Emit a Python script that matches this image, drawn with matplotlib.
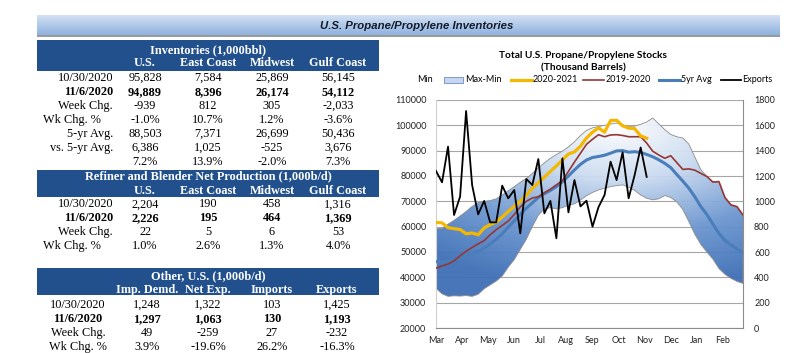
import numpy as np
import matplotlib.pyplot as plt
from matplotlib.patches import Rectangle
from matplotlib.lines import Line2D
from matplotlib.colors import LinearSegmentedColormap

W, H = 810, 353

# ---- chart data (weekly, Mar -> Feb) ----
months = ['Mar', 'Apr', 'May', 'Jun', 'Jul', 'Aug', 'Sep', 'Oct', 'Nov', 'Dec', 'Jan', 'Feb']

stocks_2020 = [61700, 61500, 59600, 59200, 58900, 57200, 57500, 56800, 59500, 60800,
               61800, 63800, 66000, 68000, 70000, 72300, 75200, 77300, 79500, 81800,
               84000, 86300, 88700, 89500, 91800, 95000, 97300, 99000, 97300, 101900,
               102000, 99800, 98900, 98700, 95828, 94889]

stocks_2019 = [43600, 44500, 45300, 46500, 48500, 50300, 51800, 53200, 54500, 56800,
               58800, 60500, 62200, 64800, 67800, 70000, 71300, 71800, 73400, 74800,
               76500, 78200, 81800, 85500, 89000, 92500, 94500, 96300, 95500, 96200,
               96300, 96000, 95500, 95500, 95500, 93000, 89800, 88300, 87000, 88000,
               85300, 82600, 82800, 82300, 81000, 79800, 77600, 77800, 71500, 68600,
               67900, 64600]

avg_5yr = [46200, 46000, 46200, 46800, 47600, 48400, 49400, 50300, 51500, 53200,
           55000, 57200, 59800, 62300, 64800, 67300, 69400, 71500, 73000, 74300,
           75800, 77700, 80000, 82400, 84600, 86300, 87300, 87700, 88200, 89000,
           89900, 90000, 89400, 89600, 89300, 88503, 87600, 86400, 85000, 83300,
           80600, 78000, 75200, 71800, 67900, 64800, 61000, 57300, 54600, 52800,
           51200, 49600]

range_max = [59300, 59300, 61000, 62500, 64200, 66000, 68000, 69500, 70000, 70300,
             71000, 72500, 74200, 75800, 77500, 79000, 81000, 83200, 85200, 87000,
             88500, 89800, 91500, 93500, 96000, 98000, 99000, 99500, 100000, 100500,
             100900, 100200, 99600, 99700, 100400, 101300, 102900, 100600, 98300, 96400,
             95500, 95000, 92600, 87500, 82500, 79800, 77600, 77800, 71500, 68600,
             67900, 64600]

range_min = [35700, 33500, 32500, 32700, 32600, 32800, 32500, 33300, 35500, 37000,
             38500, 40500, 44000, 47000, 51000, 55000, 60000, 64500, 67000, 67500,
             67000, 67500, 68500, 69000, 70500, 72200, 73500, 74500, 75200, 75800,
             76200, 76500, 75600, 74300, 72500, 71200, 70600, 71000, 72300, 71500,
             69800, 66800, 62000, 57000, 53000, 50000, 47200, 43500, 41200, 39600,
             38400, 37600]

exports = [1240, 1150, 1432, 892, 1037, 1713, 1129, 897, 1003, 834,
           834, 1124, 1024, 1089, 747, 1176, 1129, 1334, 905, 1003,
           708, 1339, 913, 1168, 960, 1005, 800, 955, 1050, 1313,
           1168, 1387, 1024, 1208, 1425, 1193]

legend_labels = ['Min', 'Max-Min', '2020-2021', '2019-2020', '5yr Avg', 'Exports']

# ---- table data ----
inv_title = 'Inventories (1,000bbl)'
inv_cols = ['U.S.', 'East Coast', 'Midwest', 'Gulf Coast']
inv_labels = ['10/30/2020', '11/6/2020', 'Week Chg.', 'Wk Chg. %', '5-yr Avg.', 'vs. 5-yr Avg.', '']
inv_rows = [['95,828', '7,584', '25,869', '56,145'],
            ['94,889', '8,396', '26,174', '54,112'],
            ['-939', '812', '305', '-2,033'],
            ['-1.0%', '10.7%', '1.2%', '-3.6%'],
            ['88,503', '7,371', '26,699', '50,436'],
            ['6,386', '1,025', '-525', '3,676'],
            ['7.2%', '13.9%', '-2.0%', '7.3%']]

prod_title = 'Refiner and Blender Net Production (1,000b/d)'
prod_cols = ['U.S.', 'East Coast', 'Midwest', 'Gulf Coast']
prod_labels = ['10/30/2020', '11/6/2020', 'Week Chg.', 'Wk Chg. %']
prod_rows = [['2,204', '190', '458', '1,316'],
             ['2,226', '195', '464', '1,369'],
             ['22', '5', '6', '53'],
             ['1.0%', '2.6%', '1.3%', '4.0%']]

oth_title = 'Other, U.S. (1,000b/d)'
oth_cols = ['Imp. Demd.', 'Net Exp.', 'Imports', 'Exports']
oth_labels = ['10/30/2020', '11/6/2020', 'Week Chg.', 'Wk Chg. %']
oth_rows = [['1,248', '1,322', '103', '1,425'],
            ['1,297', '1,063', '130', '1,193'],
            ['49', '-259', '27', '-232'],
            ['3.9%', '-19.6%', '26.2%', '-16.3%']]

HDR = '#21508c'
SERIF = 'Liberation Serif'
SANS = ['Lato', 'DejaVu Sans']
TFS = 8.8


def fx(x):
    return x / W


def fy(y):
    return 1 - y / H


fig = plt.figure(figsize=(W / 100, H / 100), dpi=100)

# ---- top banner ----
bar = fig.add_axes([fx(37), fy(35), fx(743), 20 / H])
grad = np.linspace(0, 1, 50).reshape(-1, 1)
bar.imshow(grad, aspect='auto', cmap=LinearSegmentedColormap.from_list('b', ['#d3e1f3', '#8fb2df']),
           extent=[0, 1, 0, 1], origin='upper')
bar.set_axis_off()
fig.patches.append(Rectangle((fx(37), fy(37)), fx(743), 2 / H, transform=fig.transFigure,
                             facecolor='#9a9a9a', edgecolor='none'))
fig.text(fx(417), fy(26), 'U.S. Propane/Propylene Inventories', ha='center', va='center',
         fontsize=8.2, fontweight='bold', style='italic', color='#141c2c',
         family=['Liberation Sans', 'DejaVu Sans'])


def draw_table(title, cols, col_x, labels, rows, top, bot, title_y, cols_y, row_y0, lab_x, lab_ha):
    fig.patches.append(Rectangle((fx(37), fy(bot)), fx(342), (bot - top) / H,
                                 transform=fig.transFigure, facecolor=HDR, edgecolor='none'))
    fig.text(fx(208), fy(title_y), title, ha='center', va='center', color='white',
             fontsize=TFS, fontweight='bold', family=SERIF)
    for c, cx in zip(cols, col_x):
        fig.text(fx(cx), fy(cols_y), c, ha='center', va='center', color='white',
                 fontsize=TFS, fontweight='bold', family=SERIF)
    for i, (lab, row) in enumerate(zip(labels, rows)):
        y = row_y0 + 14 * i
        wt = 'bold' if i == 1 else 'normal'
        lx = lab_x
        if lab_ha == 'right' and lab == 'Wk Chg. %':
            lx = lab_x - 12
        fig.text(fx(lx), fy(y), lab, ha=lab_ha, va='center', fontsize=TFS,
                 fontweight=wt, family=SERIF, color='black')
        for v, cx in zip(row, col_x):
            fig.text(fx(cx), fy(y), v, ha='center', va='center', fontsize=TFS,
                     fontweight=wt, family=SERIF, color='black')


draw_table(inv_title, inv_cols, [145, 208, 272, 338], inv_labels, inv_rows,
           40, 71, 50, 63, 77.7, 113, 'right')
draw_table(prod_title, prod_cols, [145, 208, 272, 338], prod_labels, prod_rows,
           170, 197, 176.5, 190.7, 204.3, 113, 'right')
draw_table(oth_title, oth_cols, [147, 208, 272, 337], oth_labels, oth_rows,
           268, 295, 276, 290, 304.7, 78, 'center')

# ---- chart ----
weeks = np.arange(len(avg_5yr))
ax = fig.add_axes([fx(436), fy(328), fx(307), 228 / H])
ax.set_xlim(0, 51)
ax.set_ylim(20000, 110000)
ax.set_yticks(np.arange(20000, 110001, 10000))
ax.grid(axis='y', color='#a6a6a6', linewidth=0.8, zorder=0)
ax.set_axisbelow(True)

gx = np.linspace(0, 51, 300)
gy = np.linspace(20000, 110000, 300)
GX, GY = np.meshgrid(gx, gy)
t = np.clip(np.sqrt(((GX - 30) / 50) ** 2 + ((100000 - GY) / 65000) ** 2), 0, 1)
band_cmap = LinearSegmentedColormap.from_list('band', ['#ffffff', '#c9daf0', '#6d97d0', '#3e6fb6'])
im = ax.imshow(t, extent=[0, 51, 20000, 110000], origin='lower', aspect='auto',
               cmap=band_cmap, vmin=0, vmax=1, zorder=1, alpha=0.95)
poly = ax.fill_between(weeks, range_min, range_max, facecolor='none',
                       edgecolor='#8c8c8c', linewidth=0.6, zorder=2)
im.set_clip_path(poly.get_paths()[0], transform=ax.transData)

ax.plot(weeks, avg_5yr, color='#4a7ebb', linewidth=2.2, zorder=3)
ax.plot(weeks, stocks_2019, color='#953735', linewidth=1.2, zorder=4)
ax.plot(np.arange(len(stocks_2020)), stocks_2020, color='#f5b800', linewidth=2.3, zorder=5)

ax.set_xticks(np.arange(12) * 52 / 12)
ax.set_xticklabels(months)
ax.spines['top'].set_visible(False)
ax.spines['left'].set_color('#d0d0d0')
ax.spines['bottom'].set_color('#8c8c8c')
ax.spines['right'].set_visible(False)
ax.tick_params(length=0, labelsize=6.5, colors='#222222')
ax.tick_params(axis='y', pad=7)
ax.tick_params(axis='x', pad=6)
for lab in ax.get_xticklabels() + ax.get_yticklabels():
    lab.set_family(SANS)

ax2 = ax.twinx()
ax2.set_ylim(0, 1800)
ax2.set_yticks(np.arange(0, 1801, 200))
ax2.plot(np.arange(len(exports)), exports, color='black', linewidth=1.3, zorder=6)
ax2.spines['top'].set_visible(False)
ax2.spines['left'].set_visible(False)
ax2.spines['bottom'].set_visible(False)
ax2.spines['right'].set_color('#8c8c8c')
ax2.tick_params(length=0, labelsize=6.5, pad=8, colors='#222222')
for lab in ax2.get_yticklabels():
    lab.set_family(SANS)

# title
fig.text(fx(583), fy(55), 'Total U.S. Propane/Propylene Stocks', ha='center', va='center',
         fontsize=7.3, fontweight='bold', family=SANS)
fig.text(fx(583), fy(68), '(Thousand Barrels)', ha='center', va='center',
         fontsize=7.3, fontweight='bold', family=SANS)

# legend (drawn by hand so it sits above the plot like the original)
ly = 80
fig.text(fx(417), fy(ly), legend_labels[0], ha='left', va='center', fontsize=6.5, family=SANS)
fig.patches.append(Rectangle((fx(444), fy(ly + 2.5)), fx(19), 5 / H, transform=fig.transFigure,
                             facecolor='#c5d6ee', edgecolor='#6d8fc4', linewidth=0.6))
fig.text(fx(465), fy(ly), legend_labels[1], ha='left', va='center', fontsize=6.5, family=SANS)
leg_lines = [(511, 532, '#f5b800', 2.3, 533), (583, 604, '#953735', 1.2, 606),
             (659, 680, '#4a7ebb', 2.2, 681), (721, 741, 'black', 1.3, 742)]
for (x0, x1, c, lw, tx), lab in zip(leg_lines, legend_labels[2:]):
    fig.lines.append(Line2D([fx(x0), fx(x1)], [fy(ly), fy(ly)], transform=fig.transFigure,
                            color=c, linewidth=lw))
    fig.text(fx(tx), fy(ly), lab, ha='left', va='center', fontsize=6.5, family=SANS)

fig.savefig('out.png', dpi=100)
